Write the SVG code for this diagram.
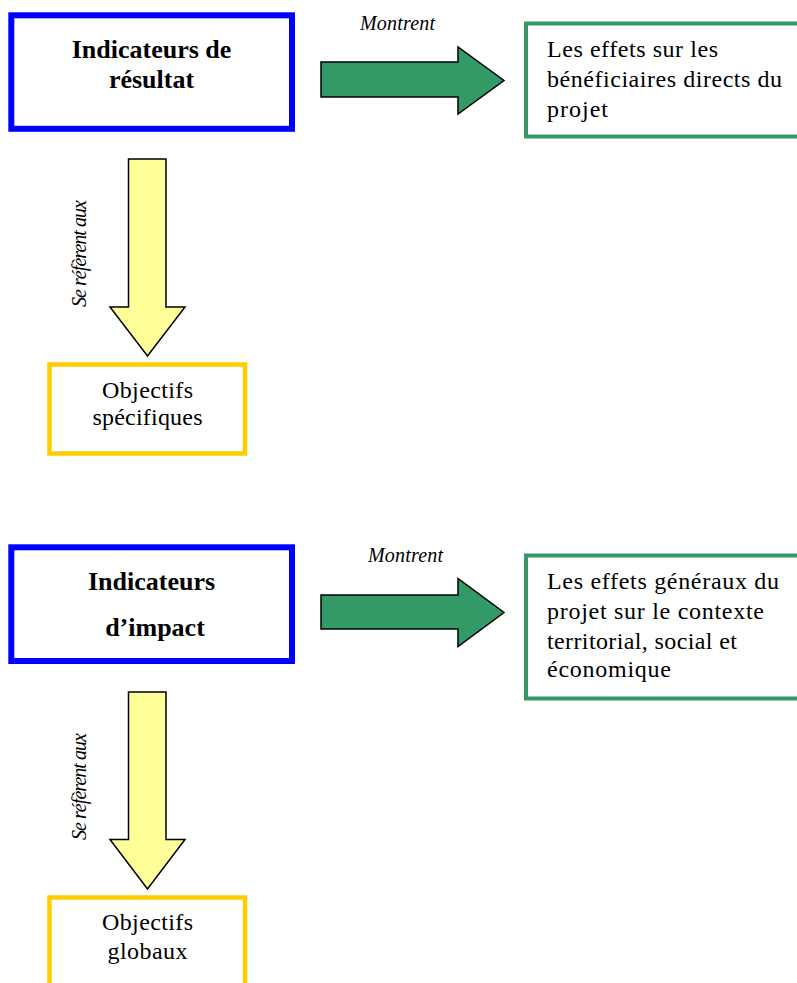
<svg xmlns="http://www.w3.org/2000/svg" width="797" height="983" viewBox="0 0 797 983">
<style>
.bg{fill:#ffffff}
.blue{fill:#ffffff;stroke:#0000ff;stroke-width:6}
.green{fill:#ffffff;stroke:#339966;stroke-width:4}
.yellow{fill:#ffffff;stroke:#ffcc00;stroke-width:4.5}
.garr{fill:#339966;stroke:#000000;stroke-width:1.5;stroke-linejoin:miter}
.yarr{fill:#ffff99;stroke:#000000;stroke-width:1.5;stroke-linejoin:miter}
.b{font-family:"Liberation Serif",serif;font-weight:bold;font-size:26px;fill:#000;text-anchor:middle}
.r{font-family:"Liberation Serif",serif;font-size:24px;fill:#000}
.c{text-anchor:middle}
.i{font-family:"Liberation Serif",serif;font-style:italic;font-size:20px;fill:#000;text-anchor:middle}
</style>
<rect class="bg" x="0" y="0" width="797" height="983"/>
<g id="connectors">
  <path class="garr" d="M321,62 H458 V47 L504,80.5 L458,114 V97 H321 Z"/>
  <text class="i" x="397.5" y="30" textLength="75">Montrent</text>
  <path class="yarr" d="M128.5,159 H166 V307 H185 L147.5,356 L110,307 H128.5 Z"/>
  <text class="i" transform="translate(86,253.5) rotate(-90)" x="0" y="0" font-size="18.5" textLength="107">Se réfèrent aux</text>
  <path class="garr" d="M321,595 H458 V578.5 L504,612.5 L458,646.5 V629 H321 Z"/>
  <text class="i" x="405.5" y="561.5" textLength="75">Montrent</text>
  <path class="yarr" d="M128.5,692 H166 V839.5 H185 L147.5,889 L110,839.5 H128.5 Z"/>
  <text class="i" transform="translate(86,786.5) rotate(-90)" x="0" y="0" font-size="18.5" textLength="107">Se réfèrent aux</text>
</g>
<g id="ind-resultat">
  <rect class="blue" x="11.3" y="15.3" width="280.7" height="113.5"/>
  <text class="b" x="151.5" y="58">Indicateurs de</text>
  <text class="b" x="151.5" y="88">résultat</text>
</g>
<g id="effets-beneficiaires">
  <rect class="green" x="526" y="23.5" width="300" height="113"/>
  <text class="r" x="547" y="57.3" textLength="171">Les effets sur les</text>
  <text class="r" x="547" y="87.3" textLength="235">bénéficiaires directs du</text>
  <text class="r" x="547" y="117" textLength="61">projet</text>
</g>
<g id="obj-specifiques">
  <rect class="yellow" x="49.5" y="364.5" width="195.5" height="89"/>
  <text class="r c" x="147.5" y="398" textLength="91">Objectifs</text>
  <text class="r c" x="147.5" y="425" textLength="110">spécifiques</text>
</g>
<g id="ind-impact">
  <rect class="blue" x="11.3" y="547.3" width="280.7" height="113.7"/>
  <text class="b" x="151.5" y="590">Indicateurs</text>
  <text class="b" x="155" y="636">d’impact</text>
</g>
<g id="effets-generaux">
  <rect class="green" x="526" y="555.5" width="300" height="143"/>
  <text class="r" x="547" y="589.3" textLength="232">Les effets généraux du</text>
  <text class="r" x="547" y="619" textLength="217">projet sur le contexte</text>
  <text class="r" x="547" y="648.5" textLength="190">territorial, social et</text>
  <text class="r" x="547" y="677" textLength="124">économique</text>
</g>
<g id="obj-globaux">
  <rect class="yellow" x="49.5" y="897.5" width="195.5" height="120"/>
  <text class="r c" x="147.5" y="929.5" textLength="91">Objectifs</text>
  <text class="r c" x="147.5" y="958.5" textLength="80">globaux</text>
</g>
</svg>
